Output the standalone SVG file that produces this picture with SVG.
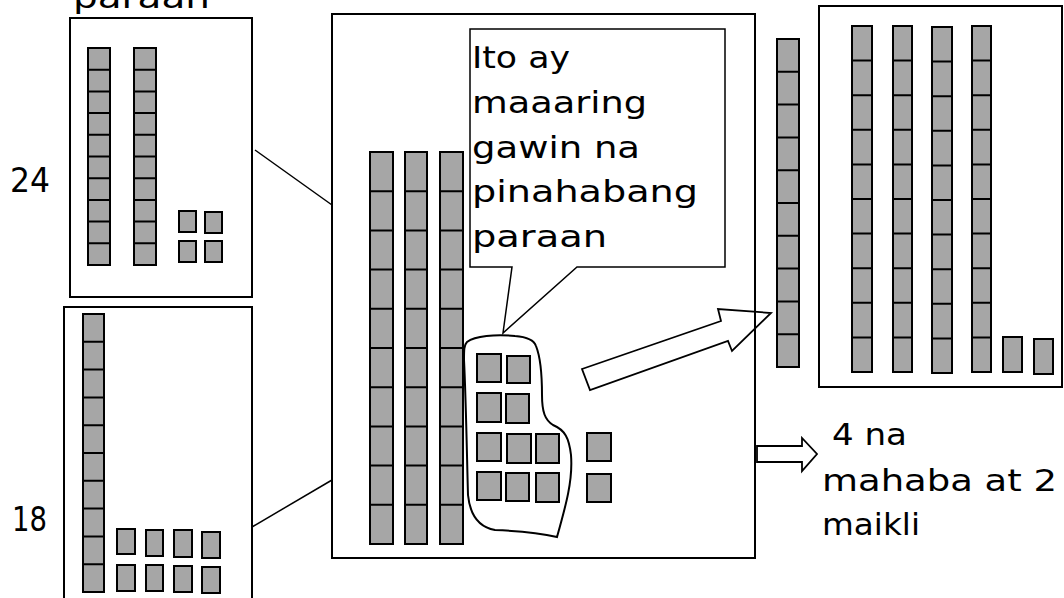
<svg xmlns="http://www.w3.org/2000/svg" width="1064" height="598" viewBox="0 0 1064 598">
<style>
.box{fill:none;stroke:#000;stroke-width:2}
.cell{fill:#a6a6a6;stroke:#000;stroke-width:2}
.div{fill:none;stroke:#000;stroke-width:2}
.t{font-family:"DejaVu Sans","Liberation Sans",sans-serif;font-size:31px;fill:#000}
.n{font-family:"DejaVu Sans","Liberation Sans",sans-serif;font-size:34px;fill:#000}
.ln{fill:none;stroke:#000;stroke-width:1.5}
.arr{fill:none;stroke:#000;stroke-width:1.8;stroke-linejoin:miter}
</style>
<rect width="1064" height="598" fill="#fff"/>

<text class="t" x="73" y="8" textLength="137" lengthAdjust="spacingAndGlyphs">paraan</text>

<g id="box-24">
  <rect class="box" x="70" y="18" width="182" height="279"/>
  <rect class="cell" x="88" y="48" width="22" height="217"/>
  <path class="div" d="M88,69.7H110M88,91.4H110M88,113.1H110M88,134.8H110M88,156.5H110M88,178.2H110M88,199.9H110M88,221.6H110M88,243.3H110"/>
  <rect class="cell" x="134" y="48" width="22" height="217"/>
  <path class="div" d="M134,69.7H156M134,91.4H156M134,113.1H156M134,134.8H156M134,156.5H156M134,178.2H156M134,199.9H156M134,221.6H156M134,243.3H156"/>
  <rect class="cell" x="179" y="211" width="17" height="21"/>
  <rect class="cell" x="205" y="212" width="17" height="21"/>
  <rect class="cell" x="179" y="241" width="17" height="21"/>
  <rect class="cell" x="205" y="241" width="17" height="21"/>
  <text class="n" x="10" y="192" textLength="40" lengthAdjust="spacingAndGlyphs">24</text>
</g>

<g id="box-18">
  <rect class="box" x="64" y="307" width="188" height="300"/>
  <rect class="cell" x="83" y="314" width="21" height="278"/>
  <path class="div" d="M83,341.8H104M83,369.6H104M83,397.4H104M83,425.2H104M83,453H104M83,480.8H104M83,508.6H104M83,536.4H104M83,564.2H104"/>
  <rect class="cell" x="117" y="529" width="18" height="25"/>
  <rect class="cell" x="146" y="530" width="17" height="26"/>
  <rect class="cell" x="174" y="530" width="18" height="27"/>
  <rect class="cell" x="202" y="532" width="18" height="26"/>
  <rect class="cell" x="117" y="565" width="18" height="26"/>
  <rect class="cell" x="146" y="565" width="17" height="26"/>
  <rect class="cell" x="174" y="566" width="18" height="26"/>
  <rect class="cell" x="202" y="567" width="18" height="26"/>
  <text class="n" x="12" y="531" textLength="35" lengthAdjust="spacingAndGlyphs">18</text>
</g>

<g id="center-box">
  <rect class="box" x="332" y="14" width="423" height="544"/>
  <rect class="cell" x="370" y="152" width="23" height="392"/>
  <path class="div" d="M370,191.2H393M370,230.4H393M370,269.6H393M370,308.8H393M370,348H393M370,387.2H393M370,426.4H393M370,465.6H393M370,504.8H393"/>
  <rect class="cell" x="405" y="152" width="22" height="392"/>
  <path class="div" d="M405,191.2H427M405,230.4H427M405,269.6H427M405,308.8H427M405,348H427M405,387.2H427M405,426.4H427M405,465.6H427M405,504.8H427"/>
  <rect class="cell" x="440" y="152" width="23" height="392"/>
  <path class="div" d="M440,191.2H463M440,230.4H463M440,269.6H463M440,308.8H463M440,348H463M440,387.2H463M440,426.4H463M440,465.6H463M440,504.8H463"/>
  <path class="box" d="M467,342 C475,336 495,334 515,336 C528,337 534,340 536,346 C540,356 542,375 542,395 C542,412 545,420 553,425 C565,430 569,438 571,455 C573,480 566,505 557,537 C540,533 520,531 495,530 C478,527 470,515 468,495 C467,460 466,400 464,360 C464,350 464,345 467,342 Z"/>
  <rect class="cell" x="477" y="354" width="24" height="28"/>
  <rect class="cell" x="507" y="356" width="23" height="27"/>
  <rect class="cell" x="477" y="393" width="24" height="29"/>
  <rect class="cell" x="506" y="394" width="23" height="29"/>
  <rect class="cell" x="477" y="433" width="24" height="28"/>
  <rect class="cell" x="507" y="434" width="24" height="29"/>
  <rect class="cell" x="536" y="434" width="23" height="29"/>
  <rect class="cell" x="477" y="472" width="24" height="28"/>
  <rect class="cell" x="506" y="473" width="23" height="28"/>
  <rect class="cell" x="536" y="473" width="23" height="29"/>
  <rect class="cell" x="587" y="433" width="24" height="28"/>
  <rect class="cell" x="587" y="474" width="24" height="28"/>
</g>

<g id="callout">
  <path d="M470,29 H725 V267 H577 L503,333 L512,267 H470 Z" fill="#fff" stroke="#000" stroke-width="1.5"/>
  <text class="t" x="472" y="68" textLength="98" lengthAdjust="spacingAndGlyphs">Ito ay</text>
  <text class="t" x="472" y="113" textLength="175" lengthAdjust="spacingAndGlyphs">maaaring</text>
  <text class="t" x="472" y="158" textLength="168" lengthAdjust="spacingAndGlyphs">gawin na</text>
  <text class="t" x="472" y="202" textLength="226" lengthAdjust="spacingAndGlyphs">pinahabang</text>
  <text class="t" x="472" y="247" textLength="135" lengthAdjust="spacingAndGlyphs">paraan</text>
</g>

<g id="ten-rod">
  <rect class="cell" x="777" y="39" width="22" height="328"/>
  <path class="div" d="M777,71.8H799M777,104.6H799M777,137.4H799M777,170.2H799M777,203H799M777,235.8H799M777,268.6H799M777,301.4H799M777,334.2H799"/>
</g>

<g id="result-box">
  <rect class="box" x="819" y="6" width="243" height="381"/>
  <rect class="cell" x="852" y="26" width="20" height="346"/>
  <path class="div" d="M852,60.6H872M852,95.2H872M852,129.8H872M852,164.4H872M852,199H872M852,233.6H872M852,268.2H872M852,302.8H872M852,337.4H872"/>
  <rect class="cell" x="893" y="26" width="19" height="346"/>
  <path class="div" d="M893,60.6H912M893,95.2H912M893,129.8H912M893,164.4H912M893,199H912M893,233.6H912M893,268.2H912M893,302.8H912M893,337.4H912"/>
  <rect class="cell" x="932" y="27" width="20" height="346"/>
  <path class="div" d="M932,61.6H952M932,96.2H952M932,130.8H952M932,165.4H952M932,200H952M932,234.6H952M932,269.2H952M932,303.8H952M932,338.4H952"/>
  <rect class="cell" x="972" y="26" width="19" height="346"/>
  <path class="div" d="M972,60.6H991M972,95.2H991M972,129.8H991M972,164.4H991M972,199H991M972,233.6H991M972,268.2H991M972,302.8H991M972,337.4H991"/>
  <rect class="cell" x="1003" y="337" width="19" height="35"/>
  <rect class="cell" x="1034" y="339" width="19" height="35"/>
</g>

<g id="answer">
  <text class="t" x="832" y="445" textLength="75" lengthAdjust="spacingAndGlyphs">4 na</text>
  <text class="t" x="822" y="491" textLength="235" lengthAdjust="spacingAndGlyphs">mahaba at 2</text>
  <text class="t" x="822" y="535" textLength="98" lengthAdjust="spacingAndGlyphs">maikli</text>
</g>

<g id="connectors">
  <line class="ln" x1="255" y1="150" x2="332" y2="205"/>
  <line class="ln" x1="252" y1="527" x2="332" y2="480"/>
  <polygon class="arr" points="582,369 721,321 718,309 771,313 732,351 728,341 590,390"/>
  <polygon class="arr" points="757,446 802,446 802,438 817,454 802,471 802,462 757,462"/>
</g>
</svg>
